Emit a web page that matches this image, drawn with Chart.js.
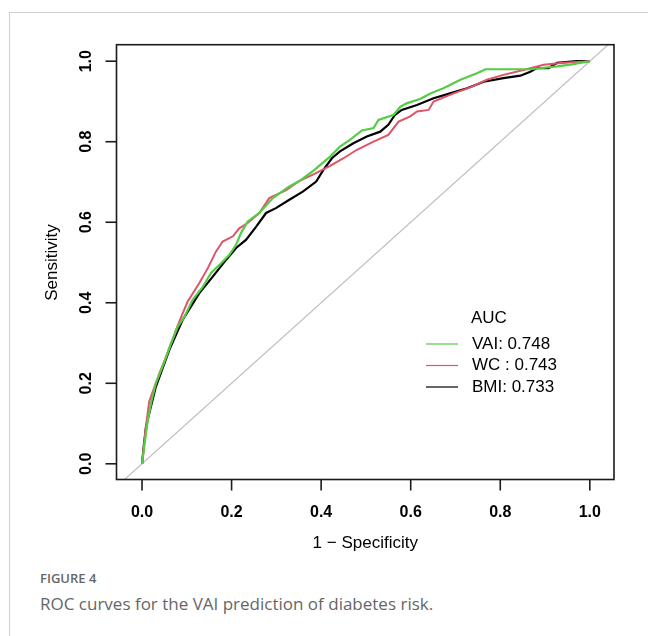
<!DOCTYPE html>
<html>
<head>
<meta charset="utf-8">
<script src="https://cdn.jsdelivr.net/npm/chart.js@4/dist/chart.umd.min.js"></script>
<style>
    body { margin: 0; background: #fff; }
    #page { position: relative; width: 648px; height: 636px; overflow: hidden; }
    #frame { position: absolute; left: 9px; top: 12px; right: -2px; bottom: -2px;
             border-left: 1px solid #cfcfcf; border-top: 1px solid #cfcfcf; }
    #plot { position: absolute; left: 0; top: 0; width: 648px; height: 560px; }
    #figNo { position: absolute; left: 40px; top: 569px; font: 600 13px "Open Sans", sans-serif; color: #666; }
    #caption { position: absolute; left: 40px; top: 592px; font: 17px "Open Sans", sans-serif; color: #666; }
</style>
</head>
<body>
<div id="page">
    <div id="frame"></div>
    <div id="plot"><canvas id="roc"></canvas></div>
    <div id="figNo">FIGURE 4</div>
    <div id="caption">ROC curves for the VAI prediction of diabetes risk.</div>
</div>
<script>
// 1 - specificity / sensitivity
const vaiX = [0, 0.003, 0.013, 0.022, 0.031, 0.046, 0.065, 0.080, 0.095, 0.113, 0.136, 0.154, 0.173, 0.195, 0.210, 0.221, 0.236, 0.262, 0.292, 0.329, 0.355, 0.385, 0.420, 0.442, 0.465, 0.491, 0.517, 0.528, 0.562, 0.577, 0.592, 0.621, 0.644, 0.673, 0.711, 0.748, 0.767, 0.867, 0.927, 0.960, 1];
const vaiY = [0, 0.027, 0.109, 0.160, 0.200, 0.242, 0.300, 0.341, 0.366, 0.407, 0.440, 0.474, 0.494, 0.519, 0.544, 0.573, 0.602, 0.623, 0.660, 0.689, 0.705, 0.730, 0.763, 0.788, 0.805, 0.828, 0.834, 0.854, 0.867, 0.887, 0.896, 0.906, 0.920, 0.933, 0.954, 0.970, 0.980, 0.980, 0.987, 0.992, 1];

const wcX = [0, 0.004, 0.007, 0.012, 0.016, 0.039, 0.054, 0.076, 0.091, 0.102, 0.128, 0.147, 0.165, 0.180, 0.203, 0.217, 0.236, 0.262, 0.284, 0.322, 0.352, 0.385, 0.420, 0.450, 0.480, 0.517, 0.550, 0.573, 0.599, 0.614, 0.640, 0.651, 0.696, 0.733, 0.770, 0.807, 0.852, 0.897, 0.941, 1];
const wcY = [0, 0.040, 0.077, 0.120, 0.155, 0.225, 0.266, 0.333, 0.374, 0.403, 0.449, 0.486, 0.527, 0.552, 0.565, 0.585, 0.598, 0.623, 0.660, 0.680, 0.703, 0.720, 0.740, 0.759, 0.780, 0.800, 0.817, 0.850, 0.863, 0.875, 0.879, 0.900, 0.920, 0.935, 0.954, 0.966, 0.978, 0.991, 0.996, 1];

const bmiX = [0, 0.004, 0.009, 0.031, 0.061, 0.091, 0.128, 0.158, 0.188, 0.210, 0.232, 0.255, 0.277, 0.299, 0.329, 0.359, 0.389, 0.405, 0.424, 0.442, 0.472, 0.502, 0.532, 0.550, 0.565, 0.580, 0.614, 0.651, 0.688, 0.726, 0.763, 0.807, 0.845, 0.867, 0.882, 0.908, 0.927, 0.971, 1];
const bmiY = [0, 0.045, 0.093, 0.192, 0.283, 0.358, 0.424, 0.465, 0.507, 0.536, 0.556, 0.589, 0.623, 0.635, 0.656, 0.676, 0.701, 0.730, 0.759, 0.776, 0.796, 0.813, 0.825, 0.842, 0.867, 0.879, 0.891, 0.908, 0.920, 0.933, 0.949, 0.958, 0.964, 0.974, 0.983, 0.983, 0.996, 1.0, 1];

const diagonal = [-0.1, 1.1];

const seriesNames = ["VAI: 0.748", "WC : 0.743", "BMI: 0.733"];
const seriesColors = ["#55CC44", "#DF536B", "#000000"];
const tickValues = [0, 0.2, 0.4, 0.6, 0.8, 1.0];
const tickLabels = ["0.0", "0.2", "0.4", "0.6", "0.8", "1.0"];

function punkte(xs, ys) {
    return xs.map((x, i) => ({ x: x, y: ys[i] }));
}

const rPlot = {
    id: 'rPlot',
    afterDraw(chart) {
        const ctx = chart.ctx;
        const a = chart.chartArea;
        const sx = chart.scales.x, sy = chart.scales.y;
        ctx.save();
        ctx.strokeStyle = '#1a1a1a';
        ctx.lineWidth = 1.6;
        ctx.strokeRect(a.left, a.top, a.right - a.left, a.bottom - a.top);

        ctx.fillStyle = '#000';
        ctx.font = 'bold 16px "Liberation Sans", Arial, sans-serif';
        ctx.textAlign = 'center';
        ctx.textBaseline = 'middle';
        tickValues.forEach((v, i) => {
            const px = sx.getPixelForValue(v);
            ctx.beginPath();
            ctx.moveTo(px, a.bottom);
            ctx.lineTo(px, a.bottom + 11);
            ctx.stroke();
            ctx.fillText(tickLabels[i], px, 513);

            const py = sy.getPixelForValue(v);
            ctx.beginPath();
            ctx.moveTo(a.left, py);
            ctx.lineTo(a.left - 11, py);
            ctx.stroke();
            ctx.save();
            ctx.translate(87, py);
            ctx.rotate(-Math.PI / 2);
            ctx.fillText(tickLabels[i], 0, 0);
            ctx.restore();
        });

        ctx.font = '17px "Liberation Sans", Arial, sans-serif';
        ctx.fillText('1 \u2212 Specificity', (a.left + a.right) / 2, 543);
        ctx.save();
        ctx.translate(52, (sy.getPixelForValue(0) + sy.getPixelForValue(1)) / 2);
        ctx.rotate(-Math.PI / 2);
        ctx.fillText('Sensitivity', 0, 0);
        ctx.restore();

        // legend
        ctx.textAlign = 'left';
        ctx.fillText('AUC', 471, 318);
        seriesNames.forEach((name, i) => {
            const y = 344 + i * 21.5;
            ctx.strokeStyle = seriesColors[i];
            ctx.lineWidth = 1.2;
            ctx.beginPath();
            ctx.moveTo(426, y);
            ctx.lineTo(458, y);
            ctx.stroke();
            ctx.fillStyle = '#000';
            ctx.fillText(name, 472, y);
        });
        ctx.restore();
    }
};

new Chart(document.getElementById('roc'), {
    type: 'scatter',
    data: {
        datasets: [{
            label: seriesNames[0],
            data: punkte(vaiX, vaiY),
            borderColor: seriesColors[0],
            borderWidth: 2.2
        }, {
            label: seriesNames[1],
            data: punkte(wcX, wcY),
            borderColor: seriesColors[1],
            borderWidth: 2
        }, {
            label: seriesNames[2],
            data: punkte(bmiX, bmiY),
            borderColor: seriesColors[2],
            borderWidth: 2.2
        }, {
            label: 'diagonal',
            data: punkte(diagonal, diagonal),
            borderColor: '#BEBEBE',
            borderWidth: 1.2
        }]
    },
    options: {
        responsive: true,
        maintainAspectRatio: false,
        animation: false,
        showLine: true,
        elements: { point: { radius: 0 }, line: { tension: 0 } },
        layout: { padding: { left: 116.5, right: 34, top: 44.7, bottom: 80.5 } },
        scales: {
            x: { type: 'linear', min: -0.057, max: 1.054, display: false },
            y: { type: 'linear', min: -0.039, max: 1.041, display: false }
        },
        plugins: {
            legend: { display: false },
            tooltip: { enabled: false }
        }
    },
    plugins: [rPlot]
});
</script>
</body>
</html>
